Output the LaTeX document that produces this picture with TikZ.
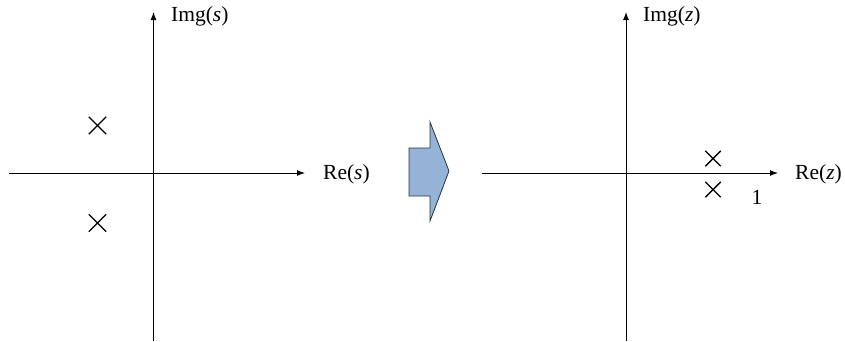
\documentclass[tikz,border=0pt]{standalone}
\usepackage{fontspec}
\setmainfont{Liberation Serif}
\usetikzlibrary{arrows.meta,shapes.misc}
\begin{document}
\begin{tikzpicture}[x=1pt,y=-1pt,
  axis/.style={line width=1pt,-{Latex[length=8pt,width=6pt]}},
  pole/.style={cross out,draw,line width=1.4pt,minimum size=#1,inner sep=0pt},
  lbl/.style={font=\fontsize{21.5}{24}\selectfont,inner sep=0pt},
  bigarrow/.style={fill={rgb,255:red,149;green,179;blue,215},draw={rgb,255:red,40;green,50;blue,70},line width=0.8pt,line join=miter}]
\useasboundingbox (0,0) rectangle (845,341);
% left plane
\coordinate (sx0) at (9,173);
\coordinate (sx1) at (305,173);
\coordinate (sy0) at (153.5,341);
\coordinate (sy1) at (153.5,12);
\draw[axis] (sx0) -- (sx1);
\draw[axis] (sy0) -- (sy1);
\node[lbl,anchor=west] (res) at (323,174) {Re(\textit{s})};
\node[lbl,anchor=west] (ims) at (171,16) {Img(\textit{s})};
\node[pole=16pt] (p1) at (97.5,125.5) {};
\node[pole=16pt] (p2) at (97.5,223) {};
% transformation arrow
\draw[bigarrow] (409,148) -- (430,148) -- (430,122) -- (449,171) -- (430,221) -- (430,196) -- (409,196) -- cycle;
% right plane
\coordinate (zx0) at (482,173);
\coordinate (zx1) at (778,173);
\coordinate (zy0) at (626,341);
\coordinate (zy1) at (626,12);
\draw[axis] (zx0) -- (zx1);
\draw[axis] (zy0) -- (zy1);
\node[lbl,anchor=west] (rez) at (795,174) {Re(\textit{z})};
\node[lbl,anchor=west] (imz) at (643,16) {Img(\textit{z})};
\node[pole=14pt] (q1) at (713,158.5) {};
\node[pole=14pt] (q2) at (713,189.5) {};
\node[lbl] (one) at (757,197) {1};
\end{tikzpicture}
\end{document}
